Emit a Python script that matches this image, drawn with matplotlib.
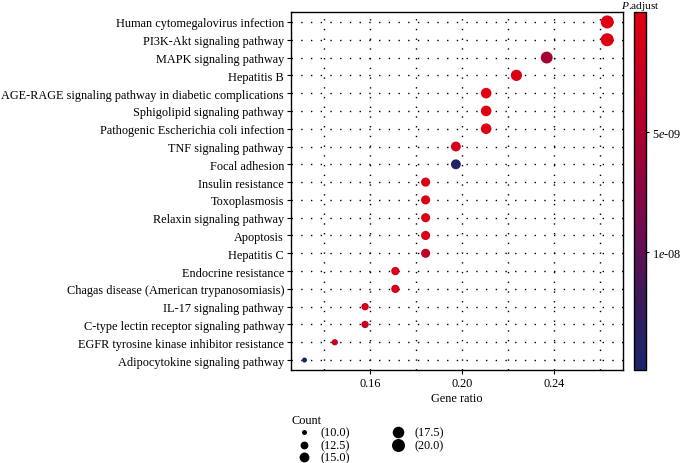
import matplotlib
matplotlib.use("Agg")
import matplotlib.pyplot as plt
import numpy as np
from matplotlib.colors import LinearSegmentedColormap, Normalize

plt.rcParams["font.family"] = ["Liberation Serif", "DejaVu Serif"]
plt.rcParams["mathtext.fontset"] = "custom"
plt.rcParams["mathtext.it"] = "Liberation Serif:italic"
plt.rcParams["mathtext.rm"] = "Liberation Serif"

pathways = [
    "Human cytomegalovirus infection",
    "PI3K-Akt signaling pathway",
    "MAPK signaling pathway",
    "Hepatitis B",
    "AGE-RAGE signaling pathway in diabetic complications",
    "Sphigolipid signaling pathway",
    "Pathogenic Escherichia coli infection",
    "TNF signaling pathway",
    "Focal adhesion",
    "Insulin resistance",
    "Toxoplasmosis",
    "Relaxin signaling pathway",
    "Apoptosis",
    "Hepatitis C",
    "Endocrine resistance",
    "Chagas disease (American trypanosomiasis)",
    "IL-17 signaling pathway",
    "C-type lectin receptor signaling pathway",
    "EGFR tyrosine kinase inhibitor resistance",
    "Adipocytokine signaling pathway",
]
counts = [20, 20, 18, 17, 16, 16, 16, 15, 15, 14, 14, 14, 14, 14, 13, 13, 12, 12, 11, 10]
gene_ratio = [c / 76 for c in counts]
p_adjust = [5e-10, 5e-10, 5.5e-9, 1.0e-9, 5e-10, 5e-10, 5e-10, 1.5e-9, 1.42e-8, 8e-10,
            8e-10, 8e-10, 8e-10, 3.5e-9, 1.2e-9, 1.2e-9, 1.5e-9, 3.0e-9, 2.5e-9, 1.48e-8]

legend_counts = [10.0, 12.5, 15.0, 17.5, 20.0]

FS = 8.8


def size_of(c):
    return 13 + (np.asarray(c) - 10) * 7.5


cmap = LinearSegmentedColormap.from_list(
    "padj",
    [(0.0, "#E3000F"), (0.33, "#B0002F"), (0.6, "#720A50"), (0.8, "#3C1A5A"), (1.0, "#18276A")],
)
norm = Normalize(vmin=0, vmax=1.49e-8)

fig = plt.figure(figsize=(6.81, 4.64), dpi=100)
ax = fig.add_axes([0.4273, 0.2004, 0.4875, 0.7716])

y = np.arange(len(pathways))[::-1]
ax.scatter(gene_ratio, y, s=size_of(counts), c=p_adjust, cmap=cmap, norm=norm,
           zorder=3, linewidths=0)

ax.set_xlim(0.1257, 0.270)
ax.set_ylim(-0.56, len(pathways) - 0.44)
ax.set_yticks(y)
ax.set_yticklabels(pathways, fontsize=FS)
ax.set_xticks([0.16, 0.20, 0.24])
ax.set_xticklabels(["0.16", "0.20", "0.24"], fontsize=FS)
ax.set_xticks([0.14, 0.18, 0.22, 0.26], minor=True)
ax.tick_params(axis="x", which="minor", length=0)
ax.tick_params(axis="both", which="major", length=3, width=0.8, pad=2)
ax.grid(True, which="both", color="black", linestyle=(0, (1, 6)), linewidth=1.0, zorder=0)
ax.set_xlabel("Gene ratio", fontsize=FS, labelpad=2)
for sp in ax.spines.values():
    sp.set_linewidth(1.0)

# colour bar
cax = fig.add_axes([0.931, 0.2004, 0.018, 0.7716])
sm = plt.cm.ScalarMappable(cmap=cmap, norm=norm)
cb = fig.colorbar(sm, cax=cax)
cax.invert_yaxis()
cb.set_ticks([5e-9, 1e-8])
cb.set_ticklabels([r"5$e$-09", r"1$e$-08"])
cax.tick_params(labelsize=FS, length=2, width=0.8, pad=2)
cb.outline.set_linewidth(1.0)
cax.text(0.5, 1.0, "$P$.adjust", transform=cax.transAxes, ha="center", va="bottom",
         fontsize=8.2)

# size legend
handles = [ax.scatter([], [], s=size_of(c), color="black", linewidths=0) for c in legend_counts]
labels = ["(%.1f)" % c for c in legend_counts]
leg = fig.legend(handles, labels, title="Count", ncol=2, frameon=False,
                 loc="upper left", bbox_to_anchor=(0.418, 0.122), fontsize=FS,
                 title_fontsize=FS, handletextpad=0.3, labelspacing=0.05,
                 columnspacing=3.0, borderpad=0.1)
leg._legend_box.align = "left"

fig.savefig("out.png", dpi=100)
